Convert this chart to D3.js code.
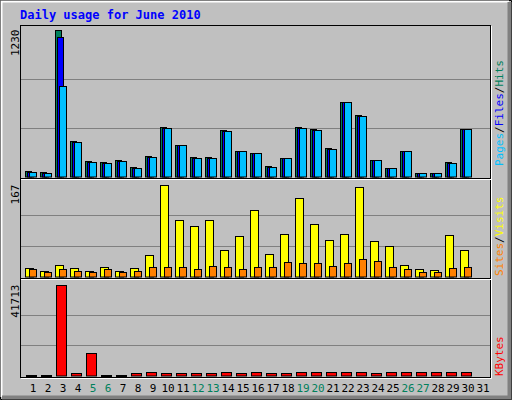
<!DOCTYPE html><html><head><meta charset="utf-8">
<script src="https://cdn.jsdelivr.net/npm/d3@7"></script>
<style>body{margin:0;background:#fff}svg{display:block}text{font-family:"DejaVu Sans Mono",monospace}</style></head><body>
<script>
const days=d3.range(1,32);
const weekend=[5,6,12,13,19,20,26,27];
const hits =[45,36,1230,296,129,120,137,79,173,413,263,162,162,388,212,196,87,154,413,397,238,622,514,137,70,212,28,28,120,397,0];
const files=[38,30,1166,290,122,114,130,72,165,407,263,156,156,382,212,196,80,154,407,390,231,622,507,137,70,212,28,28,114,397,0];
const pages=[36,28,756,288,120,112,128,70,162,405,263,154,154,380,212,196,78,154,405,388,229,622,505,137,70,212,28,28,112,397,0];
const visits=[15,10,20,15,10,17,10,15,39,167,102,91,102,48,73,120,40,77,142,96,66,77,163,64,55,20,13,11,75,49,0];
const sites=[13,8,13,10,8,13,8,10,17,17,17,13,19,17,13,17,17,26,24,24,19,24,31,28,17,13,8,8,15,17,0];
const kbytes=[300,300,41713,1066,10200,300,300,1066,1523,1066,1066,1066,1066,1523,1066,1523,1066,1066,1523,1523,1523,1523,1523,1066,1523,1523,1523,1523,1523,1523,0];
const svg=d3.select("body").append("svg").attr("width",512).attr("height",400);
svg.append("rect").attr("width",512).attr("height",400).attr("fill","#c0c0c0");
// bevel
svg.append("path").attr("d","M0.5,399.5V0.5H511.5V399.5Z").attr("fill","none").attr("stroke","#000");
svg.append("path").attr("d","M1.5,397V1.5H509").attr("fill","none").attr("stroke","#fff").attr("stroke-width",2);
svg.append("path").attr("d","M2,397.5H509.5V2").attr("fill","none").attr("stroke","#808080").attr("stroke-width",4);
svg.append("text").attr("x",20).attr("y",19).attr("fill","#0000ff").attr("font-size",12).attr("font-weight","bold").text("Daily usage for June 2010");
const x=d3.scaleLinear().domain([1,31]).range([25,475]);
const panels=[{t:25,b:177,max:1230,label:"1230"},{t:180,b:277,max:167,label:"167"},{t:280,b:376,max:41713,label:"41713"}];
panels.forEach(p=>{p.y=d3.scaleLinear().domain([0,p.max]).range([p.b,p.b-(p.b-p.t-4)*(p.max?1:1)]);});
// panel y scales: top of value slightly below panel top
panels[0].y=d3.scaleLinear().domain([0,1230]).range([176.5,29.5]);
panels[1].y=d3.scaleLinear().domain([0,167]).range([276.5,184.5]);
panels[2].y=d3.scaleLinear().domain([0,41713]).range([375.5,284.5]);
// plot frame
svg.append("rect").attr("x",20.5).attr("y",25.5).attr("width",470).attr("height",352).attr("fill","none").attr("stroke","#000");
svg.append("path").attr("d","M21,378.5H491.5V26").attr("fill","none").attr("stroke","#fff");
[178.5,278.5].forEach(yy=>{svg.append("line").attr("x1",21).attr("x2",491).attr("y1",yy).attr("y2",yy).attr("stroke","#000");svg.append("line").attr("x1",21).attr("x2",491).attr("y1",yy+1).attr("y2",yy+1).attr("stroke","#fff");});
panels.forEach(p=>{
  [1/3,2/3].forEach(f=>{const yy=Math.round(p.y(p.max*f))+0.5;svg.append("line").attr("x1",21).attr("x2",490).attr("y1",yy).attr("y2",yy).attr("stroke","#808080");});
  svg.append("text").attr("transform",`translate(19,${p.y(p.max)}) rotate(-90)`).attr("text-anchor","end").attr("font-size",11).attr("fill","#000").text(p.label);
});
function bars(data,p,off,w,col){
  svg.append("g").selectAll("rect").data(days.filter((d,i)=>data[i]>0)).join("rect")
   .attr("x",d=>x(d)+off+0.5).attr("width",w).attr("y",d=>Math.round(p.y(data[d-1]))+0.5)
   .attr("height",d=>Math.max(1,p.y(0)-Math.round(p.y(data[d-1]))))
   .attr("fill",col).attr("stroke","#000");
}
bars(hits,panels[0],0,6,"#00805c");
bars(files,panels[0],2,6,"#0000ff");
bars(pages,panels[0],4,7,"#00c0ff");
bars(visits,panels[1],0,8,"#ffff00");
bars(sites,panels[1],4,7,"#ff8000");
bars(kbytes,panels[2],1,10,"#ff0000");
svg.append("g").selectAll("text").data(days).join("text").attr("x",d=>x(d)+8).attr("y",392).attr("text-anchor","middle")
 .attr("font-size",11).attr("fill",d=>weekend.includes(d)?"#00805c":"#000").text(d=>d);
function rlabel(y,parts){const t=svg.append("text").attr("transform",`translate(503,${y}) rotate(-90)`).attr("font-size",11);
 parts.forEach(([s,c])=>t.append("tspan").attr("fill",c).text(s));}
rlabel(166,[["Pages","#00c0ff"],["/","#000"],["Files","#0000ff"],["/","#000"],["Hits","#00805c"]]);
rlabel(276,[["Sites","#ff8000"],["/","#000"],["Visits","#ffff00"]]);
rlabel(376,[["KBytes","#ff0000"]]);
</script></body></html>
